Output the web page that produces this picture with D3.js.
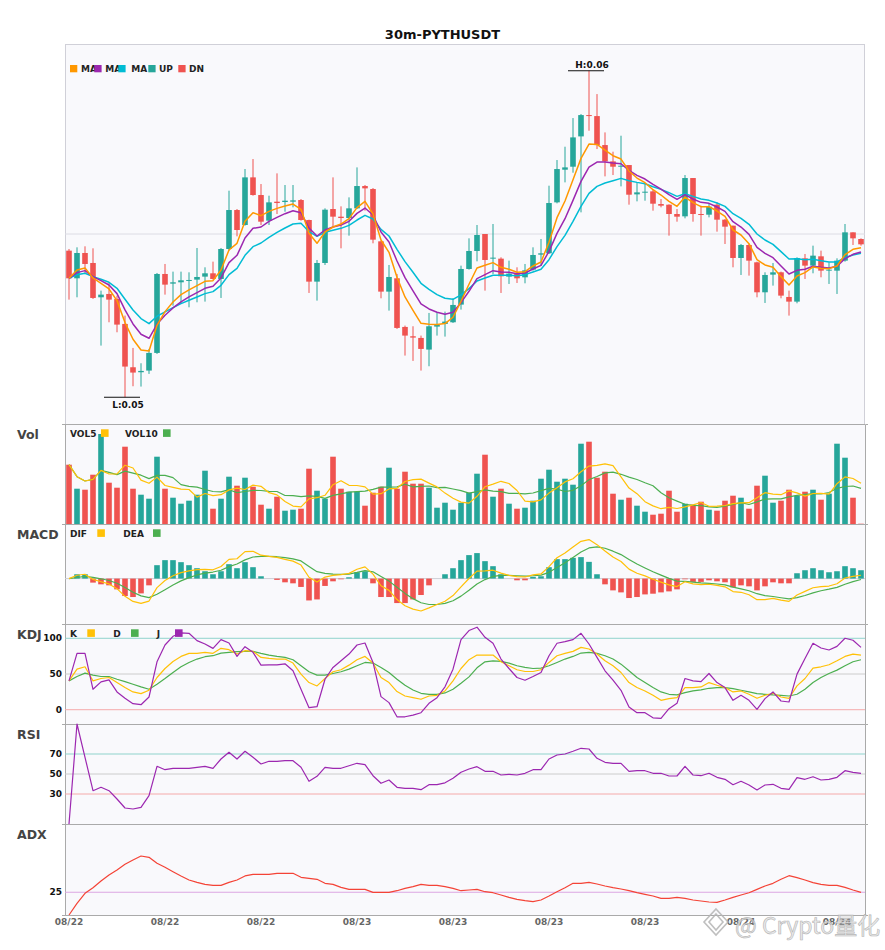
<!DOCTYPE html>
<html lang="en">
<head>
<meta charset="UTF-8">
<title>30m-PYTHUSDT</title>
<script src="https://cdn.jsdelivr.net/npm/d3@7"></script>
<style>
  body { margin: 0; background: #fff; }
  svg { display: block; font-family: "DejaVu Sans", sans-serif; }
  .title { font-size: 13px; font-weight: bold; fill: #111; }
  .panel-label { font-size: 12.5px; font-weight: bold; fill: #444; }
  .legend { font-size: 9px; font-weight: bold; fill: #222; }
  .ylab { font-size: 9px; font-weight: bold; fill: #111; }
  .frame path, .frame line { stroke: #aaa; }
  .xaxis path { stroke: #aaa; }
  .xaxis text { font-size: 9px; font-weight: bold; fill: #666; font-family: "DejaVu Sans", sans-serif; }
  .hl { font-size: 9px; font-weight: bold; fill: #111; }
</style>
</head>
<body>
<div id="chart"></div>
<script>
// ---- data (prices in 1e-5 USDT, volume in K) ----
const PRICE_UNIT = 1e-5;
const tickIdx = [0, 12, 24, 36, 48, 60, 72, 84, 96];
const tickLabels = ["08/22", "08/22", "08/22", "08/23", "08/23", "08/23", "08/23", "08/24", "08/24"];

const open = [5645,5562,5638,5608,5505,5515,5500,5425,5295,5280, 5285,5338,5575,5546,5550,5554,5558,5567,5577,5560,
  5650,5767,5722,5865,5812,5735,5792,5791,5792,5797, 5737,5552,5608,5770,5747,5743,5772,5839,5830,5673,
  5522,5562,5416,5388,5383,5348,5417,5425,5430,5483, 5590,5644,5695,5621,5621,5567,5575,5565,5588,5633,
  5637,5790,5888,5897,5988,6052,6049,5962,5913,5897, 5902,5814,5819,5823,5785,5783,5755,5748,5863,5755,
  5753,5783,5738,5720,5623,5662,5610,5520,5573,5580, 5506,5492,5622,5600,5628,5585,5585,5615,5700,5680];
const high = [5650,5655,5658,5652,5525,5550,5510,5450,5353,5307, 5350,5578,5605,5582,5582,5580,5653,5595,5612,5653,
  5825,5770,5890,5920,5845,5810,5877,5842,5842,5800, 5738,5617,5772,5865,5778,5805,5895,5842,5833,5675,
  5602,5575,5420,5418,5390,5458,5460,5462,5502,5600, 5682,5722,5695,5725,5625,5615,5595,5605,5655,5680,
  5840,5917,5957,6043,6055,6185,6115,6000,5942,5990, 5902,5850,5845,5827,5800,5784,5770,5872,5863,5780,
  5788,5790,5740,5720,5665,5665,5612,5580,5608,5582, 5525,5625,5635,5660,5645,5610,5622,5725,5700,5682];
const low = [5498,5505,5578,5500,5360,5430,5400,5205,5238,5237, 5275,5335,5513,5480,5485,5475,5490,5492,5558,5503,
  5645,5688,5720,5810,5722,5722,5755,5762,5775,5735, 5518,5495,5602,5718,5652,5690,5770,5765,5667,5502,
  5465,5410,5330,5314,5285,5298,5390,5387,5428,5468, 5588,5613,5525,5575,5518,5545,5548,5547,5585,5600,
  5635,5787,5850,5879,5760,6005,5950,5868,5872,5838, 5783,5793,5795,5765,5775,5690,5732,5742,5732,5690,
  5745,5702,5665,5595,5572,5570,5505,5488,5540,5502, 5450,5487,5560,5577,5565,5545,5515,5612,5662,5660];
const close = [5562,5638,5605,5503,5513,5498,5423,5297,5279,5284, 5338,5575,5543,5550,5556,5557,5566,5577,5560,5650,
  5767,5707,5865,5812,5732,5790,5788,5795,5796,5737, 5552,5608,5768,5747,5743,5772,5839,5832,5678,5522,
  5566,5413,5390,5384,5350,5418,5422,5432,5482,5590, 5644,5692,5617,5624,5568,5576,5562,5586,5632,5637,
  5788,5890,5895,5985,6052,6049,5962,5913,5897,5900, 5813,5820,5822,5786,5780,5755,5747,5863,5755,5753,
  5777,5738,5717,5623,5662,5615,5520,5572,5580,5510, 5492,5623,5600,5630,5585,5588,5615,5700,5682,5664];

const ma5 = [5562,5587,5593,5563,5547,5530,5495,5429,5379,5347, 5344,5421,5462,5491,5513,5527,5540,5553,5555,5587,
  5647,5667,5733,5759,5750,5763,5772,5779,5785,5769, 5697,5667,5701,5716,5725,5741,5774,5793,5755,5677,
  5640,5565,5506,5466,5427,5424,5423,5426,5445,5493, 5544,5593,5601,5609,5595,5589,5580,5582,5599,5611,
  5670,5744,5794,5858,5922,5965,5964,5947,5930,5920, 5884,5863,5849,5828,5812,5793,5778,5806,5789,5777,
  5777,5764,5748,5707,5692,5666,5618,5602,5595,5567, 5542,5569,5579,5596,5592,5591,5599,5633,5649,5654];
const ma8 = [5562,5579,5585,5567,5555,5542,5516,5467,5425,5394, 5382,5424,5451,5473,5491,5506,5519,5532,5538,5563,
  5609,5631,5683,5712,5716,5733,5745,5756,5765,5759, 5713,5689,5707,5716,5722,5733,5757,5773,5752,5701,
  5671,5614,5564,5524,5485,5470,5460,5454,5460,5489, 5523,5561,5573,5585,5581,5580,5576,5578,5590,5601,
  5643,5697,5741,5796,5853,5896,5911,5911,5908,5906, 5886,5871,5860,5844,5830,5813,5799,5813,5800,5790,
  5787,5776,5763,5732,5716,5694,5655,5637,5624,5599, 5575,5586,5589,5598,5595,5593,5598,5621,5634,5641];
const ma13 = [5562,5573,5577,5567,5559,5550,5532,5499,5467,5441, 5426,5448,5461,5474,5486,5496,5506,5516,5522,5541,
  5573,5592,5631,5657,5668,5685,5700,5713,5725,5727, 5702,5688,5700,5706,5712,5721,5737,5751,5740,5709,
  5689,5649,5612,5580,5547,5529,5513,5502,5499,5512, 5531,5554,5563,5571,5571,5571,5570,5573,5581,5589,
  5618,5657,5691,5733,5778,5817,5838,5848,5855,5862, 5855,5850,5846,5837,5829,5819,5808,5816,5808,5800,
  5796,5788,5778,5756,5742,5724,5695,5677,5664,5642, 5620,5621,5618,5619,5615,5611,5611,5624,5632,5637];

const volume = [593,353,343,493,900,413,363,773,353,293, 253,673,353,263,203,233,293,533,153,253,
  473,383,463,373,193,153,273,133,143,153, 553,333,253,673,353,323,323,183,313,373,
  563,353,523,403,403,363,163,213,143,213, 313,503,693,273,353,203,153,163,233,453,
  543,423,453,393,803,823,463,523,303,243, 263,183,123,93,103,333,123,203,193,223,
  143,133,233,283,263,153,383,483,213,233, 343,283,323,343,243,303,803,663,263,3];
const vol5 = [593,473,430,446,536,500,502,588,560,439, 407,469,385,367,349,345,269,305,283,293,
  341,359,345,389,377,313,291,225,179,171, 251,263,287,393,433,387,385,371,299,303,
  351,357,425,443,449,409,371,309,257,219, 209,277,373,399,427,405,335,229,221,241,
  309,363,421,453,523,579,587,601,583,471, 359,303,223,181,153,167,155,171,191,215,
  177,179,185,203,211,213,263,313,299,293, 331,311,279,305,307,299,403,471,455,407];
const vol10 = [593,473,430,446,536,516,494,529,509,488, 454,486,487,464,394,376,369,345,325,321,
  343,314,325,336,335,327,325,285,284,274, 282,277,256,286,302,319,324,329,346,368,
  369,371,398,371,376,380,364,367,350,334, 309,324,341,328,323,307,306,301,310,334,
  357,349,325,337,382,444,475,511,518,497, 469,445,412,382,312,263,229,197,186,184,
  172,167,178,197,213,195,221,249,251,252, 272,287,296,302,300,315,357,375,380,357];

// MACD values in 1e-5 USDT
const dif = [0,3.3,4.3,-0.8,-3.1,-5.3,-10.0,-17.6,-22.7,-24.6, -22.3,-9.0,-1.9,2.8,5.9,7.7,8.8,9.1,8.7,12.0,
  19.1,19.7,26.8,27.1,23.2,22.0,21.1,19.0,17.3,13.4, 1.3,-3.5,1.5,3.1,3.9,5.2,9.3,11.6,4.4,-7.1,
  -11.7,-20.8,-26.9,-30.3,-32.2,-29.1,-25.7,-22.5,-16.9,-8.3, 0.1,7.4,7.7,8.3,5.4,3.2,2.0,1.6,3.7,4.6,
  11.9,20.7,25.5,31.3,37.0,38.7,33.7,27.3,21.4,17.0, 9.4,5.3,2.7,-0.7,-3.5,-6.2,-7.9,-3.1,-5.2,-6.0,
  -5.6,-6.8,-8.2,-12.9,-13.6,-16.0,-20.9,-20.8,-19.7,-21.4, -22.6,-16.3,-12.7,-9.1,-8.0,-7.4,-5.1,0.6,2.2,3.3];
const dea = [0,1.1,2.2,1.2,-0.2,-1.9,-4.6,-8.9,-13.5,-17.2, -18.9,-15.6,-11.0,-6.4,-2.3,1.0,3.6,5.4,6.5,8.3,
  11.9,14.5,18.6,21.4,22.0,22.0,21.7,20.8,19.6,17.5, 12.1,6.9,5.1,4.4,4.2,4.5,6.1,7.9,6.7,2.1,
  -2.5,-8.6,-14.7,-19.9,-24.0,-25.7,-25.7,-24.6,-22.0,-17.4, -11.6,-5.3,-1.0,2.1,3.2,3.2,2.8,2.4,2.8,3.4,
  6.2,11.0,15.8,21.0,26.3,30.4,31.5,30.1,27.2,23.8, 19.0,14.4,10.5,6.8,3.4,0.2,-2.5,-2.7,-3.5,-4.3,
  -4.7,-5.4,-6.3,-8.5,-10.2,-12.1,-15.0,-16.9,-17.8,-19.0, -20.2,-18.9,-16.8,-14.2,-12.1,-10.5,-8.7,-5.6,-3.0,-0.9];
const macdHist = [0,4.3,4.3,-4,-5.7,-6.7,-10.7,-17.3,-18.3,-14.7, -6.7,13.3,18.3,18.3,16.3,13.3,10.3,7.3,4.3,7.3,
  14.3,10.3,16.3,11.3,2.3,0,-1.3,-3.7,-4.7,-8.3, -21.7,-20.7,-7.3,-2.7,-0.7,1.3,6.3,7.3,-4.7,-18.3,
  -18.3,-24.3,-24.3,-20.7,-16.3,-6.7,0,4.3,10.3,18.3, 23.3,25.3,17.3,12.3,4.3,0,-1.7,-1.7,1.7,2.3,
  11.3,19.3,19.3,20.6,21.3,16.6,4.3,-5.7,-11.7,-13.7, -19.3,-18.3,-15.7,-15,-13.7,-12.7,-10.7,-0.7,-3.3,-3.3,
  -1.7,-2.7,-3.7,-8.7,-6.7,-7.7,-11.7,-7.7,-3.7,-4.7, -4.7,5.3,8.3,10.3,8.3,6.3,7.3,12.3,10.3,8.3];

const kdjK = [40.4,56.8,60.1,40.4,43.7,45.1,38.0,31.0,24.9,22.5, 27.2,45.1,57.7,67.6,74.6,78.9,78.9,80.3,78.9,85.9,
  84.0,77.9,82.6,81.7,73.2,71.8,70.9,70.9,65.3,49.8, 38.0,33.3,43.7,53.1,55.9,62.4,70.0,74.6,65.3,45.1,
  38.0,25.4,19.2,16.9,14.6,19.2,20.2,26.3,40.4,57.7, 70.0,76.5,76.5,76.5,67.1,61.5,55.9,53.5,53.5,55.9,
  66.2,75.6,78.9,81.7,87.3,85.0,77.9,68.5,61.5,52.1, 38.0,31.0,26.3,20.2,13.1,15.5,16.9,31.0,31.0,31.9,
  38.0,34.3,31.0,24.9,26.3,21.6,16.0,20.2,23.0,17.8, 16.0,33.3,43.7,58.2,60.1,62.9,68.5,74.6,77.9,76.5];
const kdjD = [40.4,46.5,51.2,48.4,46.5,46.5,42.7,39.4,35.7,31.9, 28.6,35.7,43.7,52.1,60.1,66.2,70.9,74.2,75.6,79.3,
  80.3,81.2,81.7,81.7,78.9,76.5,74.6,73.2,70.0,61.5, 53.1,48.4,48.4,50.7,53.1,56.8,61.5,66.2,65.3,59.2,
  52.1,42.7,34.3,27.7,23.0,21.6,21.6,23.5,28.6,37.1, 46.0,58.7,67.1,68.5,67.6,65.3,61.5,59.2,57.7,58.2,
  61.5,66.2,70.9,74.6,79.3,80.3,78.9,75.6,70.9,63.8, 54.5,45.1,38.0,31.0,24.9,21.6,20.7,23.9,26.3,27.7,
  30.0,31.0,31.0,29.6,27.2,24.9,22.5,21.6,20.7,20.2, 19.2,21.6,28.6,38.0,45.1,50.7,55.4,61.5,67.1,70.0];
const kdjJ = [40.4,78.9,78.9,28.6,39.0,41.8,24.9,16.0,8.5,7.0, 17.8,67.1,90.6,102.8,107.5,107.0,96.7,92.0,85.9,98.1,
  93.4,74.6,88.3,80.3,62.4,62.9,62.9,64.3,54.5,28.6, 2.8,4.2,42.7,59.2,68.5,77.9,90.6,93.4,66.2,18.3,
  9.9,-9.9,-9.9,-7.5,-4.2,8.9,16.9,32.0,56.8,98.1, 110.8,115.5,101.4,93.0,70.9,57.7,45.1,41.3,46.5,52.1,
  75.6,93.0,95.3,98.1,107.0,92.0,73.2,54.5,41.3,27.2, 3.8,-4.2,-4.2,-11.3,-12.2,1.4,8.9,43.7,40.4,39.4,
  50.7,38.0,31.0,13.1,20.2,13.1,0.5,15.5,24.9,12.2, 10.8,49.8,71.8,93.0,86.4,83.6,88.7,100.0,97.2,87.3];

const rsi = [0,100,66.7,33.3,36.7,33.3,25,16,15,16.7, 28.3,57.7,54.3,55.7,55.7,55.7,56.7,57.7,55.7,65,
  71.7,65,72.7,66.7,60,62.7,62.7,63.3,63.3,56.7, 42.7,47.7,56.7,55.7,55.7,58.3,60.7,59.3,48.3,40.7,
  44,36.7,35.7,35.7,34.3,39.3,39.3,41.2,45.7,51.7, 55,57.3,52.7,52.7,49,49.7,49,50.7,54.3,54.3,
  65,69,70,72.7,75.7,75,65.7,61.7,60.7,60.7, 52.7,53.3,53.3,50.7,50.7,48,48,57.7,49,48.3,
  50.7,46.7,44.7,39.3,42.7,39,34,39,39.7,35.7, 34.7,46.3,44.7,47.3,44,44.7,46.7,53.3,51.7,50.7];
const adx = [0,12.8,23.8,30.0,37.4,44.0,49.5,55.7,60.4,64.8, 63.4,56.8,52.4,47.6,42.9,38.5,35.9,33.7,32.6,32.6,
  35.9,38.5,42.9,44.7,44.7,44.7,45.8,45.8,45.8,41.4, 40.3,39.2,34.8,33.7,30.4,28.2,28.2,28.2,24.9,24.9,
  24.9,26.7,29.3,31.1,33.7,32.6,32.6,31.1,29.3,26.7, 27.5,28.2,25.6,24.5,22.0,19.4,17.2,15.8,14.7,16.5,
  20.9,25.6,30.0,34.8,34.8,35.9,34.1,31.9,30.0,28.6, 26.7,24.5,22.7,20.9,18.3,18.3,19.4,18.3,16.5,15.4,
  14.3,13.9,16.5,19.4,22.0,24.5,28.2,31.9,34.8,39.2, 43.2,41.0,38.5,35.6,33.7,32.6,32.6,30.4,27.5,24.9];

// ---- layout ----
const W = 885, H = 950, X0 = 65, X1 = 865;
const UP = "#26a69a", DN = "#ef5350";
const C_MA5 = "#ff9800", C_MA8 = "#9c27b0", C_MA13 = "#00bcd4";
const C_Y = "#ffc107", C_G = "#4caf50", C_P = "#9c27b0", C_ADX = "#f44336";

const svg = d3.select("#chart").append("svg").attr("width", W).attr("height", H);

const x = d3.scaleBand().domain(d3.range(close.length)).range([X0, X1])
  .paddingInner(0.3).paddingOuter(0.15);
const cx = i => x(i) + x.bandwidth() / 2;

svg.append("text").attr("class", "title").attr("x", W / 2).attr("y", 39)
  .attr("text-anchor", "middle").text("30m-PYTHUSDT");

function frame(top, bottom, label) {
  svg.append("rect").attr("x", X0).attr("y", top).attr("width", X1 - X0).attr("height", bottom - top)
    .attr("fill", "#f9f9fc");
  const s = d3.scaleLinear().range([bottom, top]);
  svg.append("g").attr("class", "frame").attr("transform", `translate(${X0},0)`)
    .call(d3.axisLeft(s).tickValues([]).tickSizeOuter(3));
  svg.append("g").attr("class", "frame").attr("transform", `translate(${X1},0)`)
    .call(d3.axisRight(s).tickValues([]).tickSizeOuter(3));
  svg.append("line").attr("x1", X0).attr("x2", X1).attr("y1", top + 0.5).attr("y2", top + 0.5)
    .attr("stroke", "#aaa");
  svg.append("text").attr("class", "panel-label").attr("x", 17).attr("y", top + 15.3).text(label);
}

function hline(scale, v, color) {
  svg.append("line").attr("x1", X0).attr("x2", X1)
    .attr("y1", scale(v)).attr("y2", scale(v)).attr("stroke", color).attr("stroke-width", 1);
}

function series(values, scale, color, width) {
  svg.append("path").datum(values).attr("fill", "none").attr("stroke", color)
    .attr("stroke-width", width).attr("stroke-linejoin", "round")
    .attr("d", d3.line().x((d, i) => cx(i)).y(d => scale(d)));
}

function yLabel(scale, v) {
  svg.append("text").attr("class", "ylab").attr("x", 62).attr("y", scale(v))
    .attr("dy", "0.35em").attr("text-anchor", "end").text(v);
}

function legend(items, baseY) {
  items.forEach(it => {
    if (it.sqFirst) {
      svg.append("rect").attr("x", it.sx).attr("y", baseY - 7.3).attr("width", 7.3).attr("height", 7.3).attr("fill", it.color);
      svg.append("text").attr("class", "legend").attr("x", it.tx).attr("y", baseY).text(it.text);
    } else {
      svg.append("text").attr("class", "legend").attr("x", it.tx).attr("y", baseY).text(it.text);
      svg.append("rect").attr("x", it.sx).attr("y", baseY - 7.4).attr("width", 7.6).attr("height", 7.6).attr("fill", it.color);
    }
  });
}

// ---- main candle panel ----
const MAIN = [44, 424];
svg.append("rect").attr("x", X0 + 0.5).attr("y", MAIN[0] + 0.5).attr("width", X1 - X0 - 1)
  .attr("height", MAIN[1] - MAIN[0]).attr("fill", "#f9f9fc").attr("stroke", "#d0d0d8");

const hiMax = d3.max(high), loMin = d3.min(low), pad = (hiMax - loMin) * 0.082;
const y = d3.scaleLinear().domain([loMin - pad, hiMax + pad]).range([MAIN[1], MAIN[0]]);
hline(y, (loMin + hiMax) / 2, "#dcdce4");

const candles = svg.append("g");
close.forEach((c, i) => {
  const o = open[i], col = c >= o ? UP : DN;
  candles.append("line").attr("x1", cx(i)).attr("x2", cx(i))
    .attr("y1", y(high[i])).attr("y2", y(low[i])).attr("stroke", col).attr("stroke-width", 1);
  const top = y(Math.max(o, c)), bot = y(Math.min(o, c));
  candles.append("rect").attr("x", x(i)).attr("width", x.bandwidth())
    .attr("y", top).attr("height", Math.max(1, bot - top)).attr("fill", col);
});

series(ma13, y, C_MA13, 1.5);
series(ma8, y, C_MA8, 1.5);
series(ma5, y, C_MA5, 1.5);

// high / low markers
const hi = d3.maxIndex(high), lo = d3.minIndex(low);
svg.append("line").attr("x1", cx(hi) - 21).attr("x2", cx(hi) + 15).attr("y1", y(high[hi])).attr("y2", y(high[hi]))
  .attr("stroke", "#111").attr("stroke-width", 1.2);
svg.append("text").attr("class", "hl").attr("x", cx(hi) + 3).attr("y", y(high[hi]) - 3)
  .attr("text-anchor", "middle").text("H:" + (high[hi] * PRICE_UNIT).toFixed(2));
svg.append("line").attr("x1", cx(lo) - 21).attr("x2", cx(lo) + 15).attr("y1", y(low[lo])).attr("y2", y(low[lo]))
  .attr("stroke", "#111").attr("stroke-width", 1.2);
svg.append("text").attr("class", "hl").attr("x", cx(lo) + 3).attr("y", y(low[lo]) + 11)
  .attr("text-anchor", "middle").text("L:" + (low[lo] * PRICE_UNIT).toFixed(2));

legend([
  { text: "MA", color: C_MA5, sx: 70, tx: 81, sqFirst: true },
  { text: "MA", color: C_MA8, sx: 94.3, tx: 105.3, sqFirst: true },
  { text: "MA", color: C_MA13, sx: 118.3, tx: 131.3, sqFirst: true },
  { text: "UP", color: UP, sx: 148.3, tx: 159, sqFirst: true },
  { text: "DN", color: DN, sx: 178.3, tx: 189, sqFirst: true }
], 72.3);

// ---- volume ----
const VOL = [424, 524];
frame(VOL[0], VOL[1], "Vol");
const yv = d3.scaleLinear().domain([0, d3.max(volume) / 0.9]).range([VOL[1], VOL[0]]);
volume.forEach((v, i) => {
  svg.append("rect").attr("x", x(i)).attr("width", x.bandwidth())
    .attr("y", yv(v)).attr("height", yv(0) - yv(v)).attr("fill", close[i] >= open[i] ? UP : DN);
});
series(vol10, yv, C_G, 1.2);
series(vol5, yv, C_Y, 1.2);
legend([
  { text: "VOL5", color: C_Y, tx: 70, sx: 101 },
  { text: "VOL10", color: C_G, tx: 125, sx: 163 }
], 436.7);

// ---- MACD ----
const MACD = [524, 624];
frame(MACD[0], MACD[1], "MACD");
const mAll = dif.concat(dea, macdHist);
const ym = d3.scaleLinear().domain([d3.min(mAll) * 1.4, d3.max(mAll) * 1.4]).range([MACD[1], MACD[0]]);
hline(ym, 0, "#cfcfd6");
macdHist.forEach((h, i) => {
  if (h === 0) return;
  svg.append("rect").attr("x", x(i)).attr("width", x.bandwidth())
    .attr("y", ym(Math.max(0, h))).attr("height", Math.abs(ym(h) - ym(0)))
    .attr("fill", h > 0 ? UP : DN);
});
series(dea, ym, C_G, 1.2);
series(dif, ym, C_Y, 1.2);
legend([
  { text: "DIF", color: C_Y, tx: 70, sx: 97.3 },
  { text: "DEA", color: C_G, tx: 123.3, sx: 153 }
], 536.7);

// ---- KDJ ----
const KDJ = [624, 724];
frame(KDJ[0], KDJ[1], "KDJ");
const yk = d3.scaleLinear().domain([-20, 120]).range([KDJ[1], KDJ[0]]);
hline(yk, 100, "#8fd3cc");
hline(yk, 50, "#cccccc");
hline(yk, 0, "#f5aaaa");
series(kdjD, yk, C_G, 1.2);
series(kdjK, yk, C_Y, 1.2);
series(kdjJ, yk, C_P, 1.2);
[100, 50, 0].forEach(v => yLabel(yk, v));
legend([
  { text: "K", color: C_Y, tx: 70, sx: 87.3 },
  { text: "D", color: C_G, tx: 113.3, sx: 131 },
  { text: "J", color: C_P, tx: 156.7, sx: 175 }
], 636.7);

// ---- RSI ----
const RSI = [724, 824];
frame(RSI[0], RSI[1], "RSI");
const yr = d3.scaleLinear().domain([0, 100]).range([RSI[1], RSI[0]]);
hline(yr, 70, "#8fd3cc");
hline(yr, 50, "#cccccc");
hline(yr, 30, "#f5aaaa");
series(rsi, yr, C_P, 1.2);
[70, 50, 30].forEach(v => yLabel(yr, v));

// ---- ADX ----
const ADX = [824, 915];
frame(ADX[0], ADX[1], "ADX");
const ya = d3.scaleLinear().domain([0, 100]).range([ADX[1], ADX[0]]);
hline(ya, 25, "#dca6e2");
series(adx, ya, C_ADX, 1.2);
yLabel(ya, 25);

// ---- time axis ----
svg.append("g").attr("class", "xaxis").attr("transform", `translate(0,${ADX[1]})`)
  .call(d3.axisBottom(x).tickValues(tickIdx).tickFormat((d, i) => tickLabels[i]).tickSize(0).tickPadding(3.5))
  .call(g => g.select(".domain").attr("d", `M${X0},0.5H${X1}`));

// ---- watermark ----
const wm = svg.append("g").attr("opacity", 0.85);
wm.append("path").attr("d", "M716,909 L728,922 L716,935 L704,922 Z M716,914 L723,922 L716,930 L709,922 Z")
  .attr("fill", "none").attr("stroke", "#b5b5b5").attr("stroke-width", 1.6);
wm.append("text").attr("x", 735).attr("y", 934).attr("font-size", 23)
  .attr("font-family", "'Noto Sans CJK SC', 'DejaVu Sans', sans-serif")
  .attr("fill", "#e6e6e6").attr("stroke", "#a8a8a8").attr("stroke-width", 0.6)
  .text("@ Crypto量化");
</script>
</body>
</html>
